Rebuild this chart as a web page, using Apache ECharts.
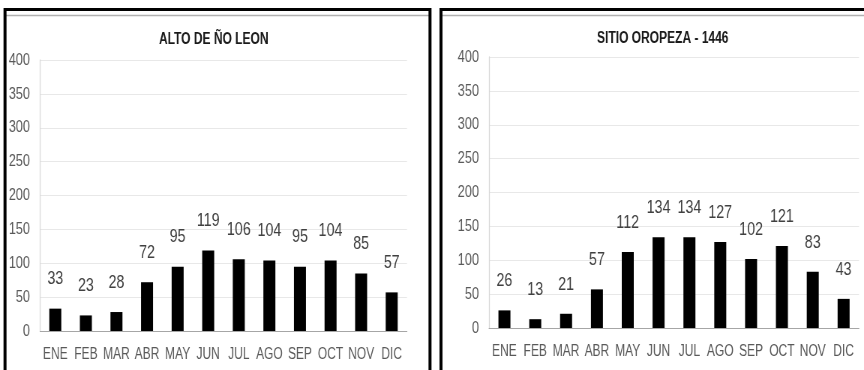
<!DOCTYPE html>
<html>
<head>
<meta charset="utf-8">
<title>Precipitación mensual</title>
<script src="https://cdn.jsdelivr.net/npm/echarts@6/dist/echarts.min.js"></script>
<style>
  html, body { margin: 0; padding: 0; background: #fff; overflow: hidden; }
  #chart { height: 370px; transform-origin: 0 0; }
</style>
</head>
<body>
<div id="chart"></div>
<script>
// Monthly values for the two stations
const months = ['ENE', 'FEB', 'MAR', 'ABR', 'MAY', 'JUN', 'JUL', 'AGO', 'SEP', 'OCT', 'NOV', 'DIC'];
const altoDeNoLeon = [33, 23, 28, 72, 95, 119, 106, 104, 95, 104, 85, 57];
const sitioOropeza = [26, 13, 21, 57, 112, 134, 134, 127, 102, 121, 83, 43];
const titles = ['ALTO DE ÑO LEON', 'SITIO OROPEZA - 1446'];
const yMin = 0, yMax = 400, yStep = 50;

// The chart is laid out on a wider canvas and compressed horizontally,
// which gives the condensed lettering of the printed figure.
const SQUEEZE = 0.75;
const X = px => px / SQUEEZE;
const el = document.getElementById('chart');
el.style.width = X(864) + 'px';
el.style.transform = 'scaleX(' + SQUEEZE + ')';

const FONT = "'Liberation Sans', Arial, sans-serif";

const chart = echarts.init(el, null, { renderer: 'canvas' });

const grids = [
  { left: X(40), top: 60, width: X(367), height: 271 },
  { left: X(489), top: 57, width: X(370), height: 271 }
];

function xAxis(i) {
  return {
    type: 'category', gridIndex: i, data: months,
    axisTick: { show: false },
    axisLine: { lineStyle: { color: '#a6a6a6', width: 1 } },
    axisLabel: { color: '#595959', fontFamily: FONT, fontSize: 16, margin: 16, interval: 0 }
  };
}
function yAxis(i) {
  return {
    type: 'value', gridIndex: i, min: yMin, max: yMax, interval: yStep,
    axisTick: { show: false },
    axisLine: { show: true, lineStyle: { color: '#d9d9d9', width: X(1) } },
    splitLine: { lineStyle: { color: '#e8e8e8', width: 1 } },
    axisLabel: { color: '#595959', fontFamily: FONT, fontSize: 17, margin: X(10) }
  };
}
function bars(i, data) {
  return {
    type: 'bar', xAxisIndex: i, yAxisIndex: i, data: data,
    barWidth: X(12),
    itemStyle: { color: '#000' },
    label: { show: true, position: 'top', distance: 20, color: '#404040', fontFamily: FONT, fontSize: 19 },
    silent: true, animation: false
  };
}

// Panel frames: thick black left/top/right edges with a thin grey rule under the top
const frame = (x0, x1, hasRight) => {
  const els = [
    { type: 'line', shape: { x1: X(x0), y1: 9.5, x2: X(x1), y2: 9.5 }, style: { stroke: '#000', lineWidth: 3 } },
    { type: 'line', shape: { x1: X(x0), y1: 15.5, x2: X(x1), y2: 15.5 }, style: { stroke: '#b0b0b0', lineWidth: 1.5 } },
    { type: 'line', shape: { x1: X(x0), y1: 8, x2: X(x0), y2: 370 }, style: { stroke: '#000', lineWidth: X(3) } }
  ];
  if (hasRight) {
    els.push({ type: 'line', shape: { x1: X(x1), y1: 8, x2: X(x1), y2: 370 }, style: { stroke: '#000', lineWidth: X(3) } });
  }
  return els;
};

chart.setOption({
  backgroundColor: '#fff',
  animation: false,
  title: [
    { text: titles[0], left: X(210), top: 27, textAlign: 'center',
      textStyle: { fontFamily: FONT, fontSize: 16, fontWeight: 'bold', color: '#1a1a1a' } },
    { text: titles[1], left: X(659), top: 26, textAlign: 'center',
      textStyle: { fontFamily: FONT, fontSize: 16, fontWeight: 'bold', color: '#1a1a1a' } }
  ],
  grid: grids.map(g => Object.assign({ containLabel: false, outerBoundsMode: 'none' }, g)),
  xAxis: [xAxis(0), xAxis(1)],
  yAxis: [yAxis(0), yAxis(1)],
  series: [bars(0, altoDeNoLeon), bars(1, sitioOropeza)],
  graphic: [].concat(frame(5, 430, true), frame(441, 864, false)).map(e => Object.assign({ silent: true, z: 100 }, e))
});
</script>
</body>
</html>
